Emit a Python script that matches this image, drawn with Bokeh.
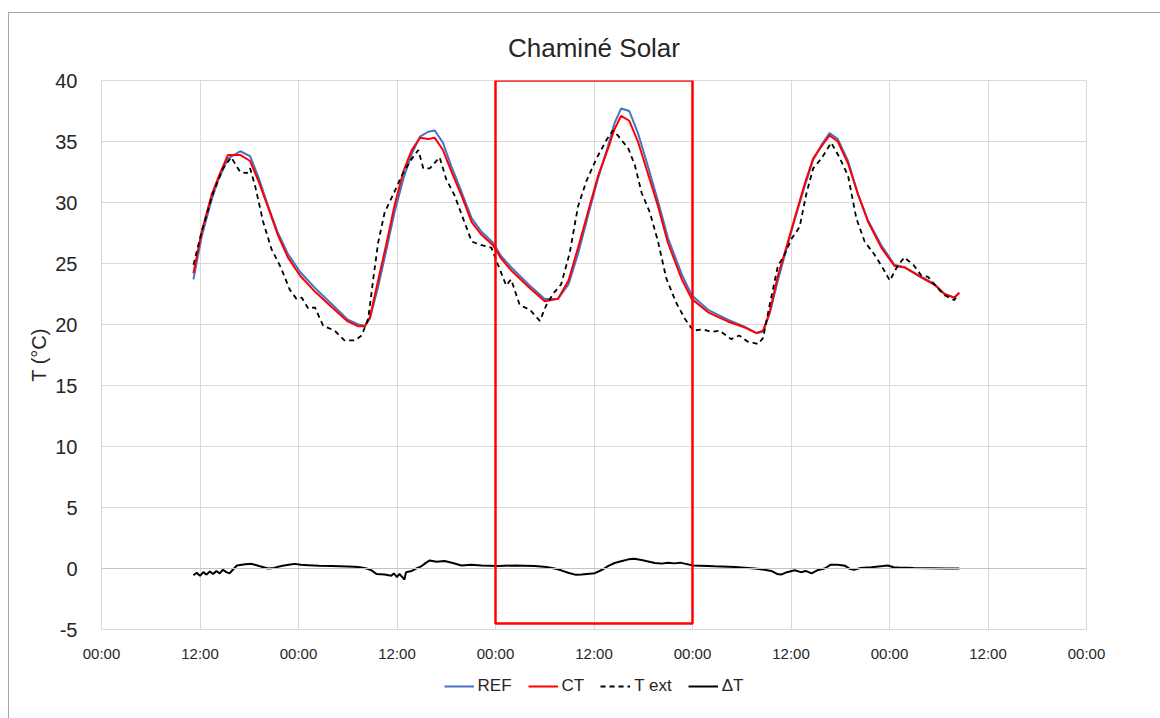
from bokeh.plotting import figure
from bokeh.layouts import column
from bokeh.models import Range1d, FixedTicker, Legend, LegendItem, BoxAnnotation, Span
from bokeh.embed import file_html
from bokeh.resources import INLINE

# Hours elapsed since the first 00:00 on the time axis
tick_hours = [0, 12, 24, 36, 48, 60, 72, 84, 96, 108, 120]
tick_labels = ["00:00", "12:00", "00:00", "12:00", "00:00", "12:00",
               "00:00", "12:00", "00:00", "12:00", "00:00"]
y_ticks = [-5, 0, 5, 10, 15, 20, 25, 30, 35, 40]
y_labels = ["-5", "0", "5", "10", "15", "20", "25", "30", "35", "40"]

# Indoor temperatures: reference room (REF) and room with solar chimney (CT)
hours_in = [11.2, 12.2, 13.4, 14.2, 15.4, 16.9, 18.1, 19.1, 20.3, 21.5, 22.7, 24.2,
            26.0, 28.0, 30.0, 31.3, 32.1, 32.7, 33.7, 34.7, 35.7, 36.8, 37.8, 38.8,
            39.8, 40.6, 41.6, 42.6, 43.9, 45.1, 46.3, 47.7, 48.7, 49.9, 52.0, 54.0,
            55.6, 56.9, 58.1, 59.3, 60.5, 61.7, 62.5, 63.3, 64.3, 65.4, 66.6, 67.8,
            69.0, 70.7, 71.9, 73.9, 76.3, 78.4, 79.8, 80.6, 81.4, 82.4, 83.2, 84.45,
            85.7, 86.7, 87.7, 88.7, 89.7, 90.95, 92.2, 93.4, 95.0, 96.6, 97.8, 99.9,
            101.5, 102.7, 103.9, 104.5]
t_ref = [23.7, 27.2, 30.2, 31.8, 33.6, 34.2, 33.8, 32.1, 29.7, 27.5, 25.8, 24.3,
         23.0, 21.7, 20.4, 20.0, 19.9, 20.5, 23.1, 26.1, 29.2, 32.0, 34.0, 35.4,
         35.8, 35.9, 34.9, 33.0, 30.8, 28.7, 27.6, 26.7, 25.6, 24.7, 23.3, 22.1,
         22.1, 23.3, 25.9, 29.0, 32.0, 34.6, 36.5, 37.7, 37.5, 35.6, 32.9, 30.1,
         27.1, 24.1, 22.4, 21.2, 20.4, 19.8, 19.3, 19.4, 20.9, 23.6, 25.6, 28.6,
         31.4, 33.5, 34.7, 35.7, 35.2, 33.4, 30.6, 28.5, 26.5, 24.9, 24.7, 23.9,
         23.3, 22.5, 22.2, 22.6]
t_ct = [24.2, 27.6, 30.6, 32.0, 33.9, 33.9, 33.4, 31.8, 29.6, 27.3, 25.5, 24.0,
        22.7, 21.45, 20.25, 19.85, 19.85, 20.6, 23.6, 26.6, 29.75, 32.6, 34.3, 35.3,
        35.2, 35.3, 34.3, 32.6, 30.5, 28.4, 27.35, 26.5, 25.4, 24.45, 23.1, 21.9,
        22.1, 23.6, 26.4, 29.3, 32.2, 34.4, 36.0, 37.1, 36.7, 34.9, 32.3, 29.7,
        26.7, 23.7, 22.1, 21.0, 20.25, 19.75, 19.3, 19.5, 21.0, 24.0, 25.8, 28.7,
        31.6, 33.6, 34.6, 35.5, 35.0, 33.2, 30.6, 28.4, 26.3, 24.8, 24.7, 23.85,
        23.25, 22.5, 22.2, 22.6]

# Outdoor air temperature
hours_ext = [11.2, 12.2, 13.6, 14.8, 15.8, 16.9, 17.7, 18.1, 18.7, 19.7, 20.7, 21.9,
             22.9, 23.75, 24.4, 25.2, 26.0, 27.0, 28.4, 29.6, 30.9, 31.7, 32.5, 33.1,
             33.7, 34.5, 35.5, 36.5, 37.6, 38.6, 39.2, 40.0, 41.2, 42.0, 43.0, 44.05,
             45.1, 46.3, 47.5, 48.3, 49.3, 49.9, 50.95, 52.2, 53.4, 54.2, 55.0, 56.0,
             57.05, 58.06, 59.1, 60.3, 61.5, 62.3, 62.9, 64.2, 65.0, 65.8, 66.8, 67.8,
             68.8, 70.0, 71.05, 72.07, 73.3, 74.3, 75.3, 76.7, 77.7, 78.7, 80.0, 80.6,
             81.4, 82.4, 83.2, 84.05, 85.05, 85.9, 86.7, 87.7, 88.9, 89.9, 90.95, 91.96,
             92.97, 94.2, 95.2, 96.04, 96.9, 97.8, 98.9, 99.9, 100.7, 101.7, 102.7,
             103.9, 104.3]
t_ext = [24.9, 27.6, 30.8, 32.8, 33.7, 32.5, 32.4, 32.8, 31.4, 28.4, 26.2, 24.6,
         22.9, 22.1, 22.2, 21.3, 21.4, 19.9, 19.5, 18.7, 18.7, 19.1, 20.5, 23.7,
         26.7, 29.2, 30.6, 32.1, 33.4, 34.3, 32.8, 32.8, 33.7, 31.9, 30.6, 28.7,
         26.8, 26.5, 26.3, 24.9, 23.2, 23.7, 21.6, 21.2, 20.3, 21.6, 22.5, 23.3,
         25.9, 29.7, 31.8, 33.6, 35.1, 35.9, 35.5, 34.4, 33.0, 30.8, 29.2, 26.8,
         23.8, 21.8, 20.5, 19.5, 19.6, 19.4, 19.5, 18.8, 19.1, 18.6, 18.4, 18.9,
         21.6, 24.8, 25.7, 27.0, 28.0, 30.8, 32.8, 33.6, 34.9, 33.7, 32.2, 28.7,
         26.8, 25.7, 24.6, 23.6, 24.7, 25.5, 24.9, 24.0, 23.9, 23.1, 22.4,
         22.0, 22.4]

# Difference REF - CT
hours_dt = [11.2, 11.6, 12.0, 12.4, 12.8, 13.2, 13.6, 14.0, 14.4, 14.8, 15.2, 15.6,
            16.0, 16.5, 17.5, 18.3, 19.2, 20.3, 21.0, 21.9, 22.8, 23.55, 24.3, 25.2,
            26.5, 28.0, 30.0, 31.3, 32.3, 32.9, 33.5, 34.5, 35.3, 35.6, 36.0, 36.3,
            36.7, 36.9, 37.1, 37.8, 38.5, 39.0, 39.6, 40.0, 40.8, 41.8, 42.8, 43.85,
            45.0, 46.3, 48.3, 50.35, 52.8, 54.2, 55.2, 56.0, 56.85, 57.8, 58.5, 60.1,
            61.0, 61.7, 62.5, 63.3, 64.2, 64.9, 65.8, 66.6, 67.4, 68.2, 69.0, 69.8,
            70.5, 71.05, 72.1, 74.7, 77.15, 79.6, 80.8, 81.6, 82.3, 82.8, 83.5, 84.45,
            85.2, 85.8, 86.5, 87.2, 88.1, 88.8, 89.7, 90.6, 91.2, 91.7, 92.5, 93.8,
            95.2, 95.8, 96.5, 97.1, 99.0, 101.1, 103.0, 104.5]
t_dt = [-0.55, -0.35, -0.6, -0.3, -0.5, -0.25, -0.45, -0.2, -0.4, -0.1, -0.3, -0.4,
        -0.1, 0.25, 0.35, 0.38, 0.2, 0.0, 0.05, 0.2, 0.3, 0.38, 0.3, 0.27,
        0.22, 0.2, 0.17, 0.12, 0.0, -0.15, -0.45, -0.5, -0.6, -0.4, -0.7, -0.45,
        -0.75, -0.9, -0.3, -0.2, 0.05, 0.2, 0.5, 0.66, 0.55, 0.62, 0.45, 0.25,
        0.3, 0.25, 0.2, 0.25, 0.2, 0.12, 0.0, -0.15, -0.35, -0.52, -0.5, -0.38,
        -0.1, 0.2, 0.45, 0.6, 0.75, 0.8, 0.7, 0.58, 0.45, 0.4, 0.48, 0.42,
        0.48, 0.4, 0.25, 0.18, 0.12, 0.0, -0.1, -0.2, -0.45, -0.5, -0.3, -0.15,
        -0.3, -0.2, -0.4, -0.15, 0.0, 0.3, 0.3, 0.22, -0.05, -0.1, 0.05, 0.1,
        0.2, 0.25, 0.1, 0.08, 0.05, 0.03, 0.0, 0.0]

# Highlighted day
day_start, day_end = 48, 72
box_bottom, box_top = -4.5, 40

FONT = "Liberation Sans"
TEXT = "#262626"
GRID = "#d9d9d9"
C_REF, C_CT, C_BLACK = "#4472C4", "#FF0000", "black"

p = figure(width=1152, height=652, output_backend="svg", toolbar_location=None,
           x_range=Range1d(0, 120), y_range=Range1d(-5, 40),
           min_border_left=92, min_border_right=75, min_border_top=66,
           min_border_bottom=36, background_fill_color="white",
           border_fill_color="white", outline_line_color=GRID)

p.title.text = "Chaminé Solar"
p.title.align = "center"
p.title.text_font = FONT
p.title.text_font_size = "26px"
p.title.text_font_style = "normal"
p.title.text_color = TEXT
p.title.standoff = 35

p.xaxis.ticker = FixedTicker(ticks=tick_hours)
p.xaxis.major_label_overrides = dict(zip(tick_hours, tick_labels))
p.yaxis.ticker = FixedTicker(ticks=y_ticks)
p.yaxis.major_label_overrides = dict(zip(y_ticks, y_labels))
for ax in (p.xaxis, p.yaxis):
    ax.axis_line_color = None
    ax.major_tick_line_color = None
    ax.minor_tick_line_color = None
    ax.major_label_text_font = FONT
    ax.major_label_text_color = TEXT
p.xaxis.major_label_text_font_size = "15px"
p.xaxis.major_label_standoff = 9
p.yaxis.major_label_text_font_size = "20px"
p.yaxis.major_label_standoff = 18
p.yaxis.axis_label = "T (°C)"
p.yaxis.axis_label_text_font = FONT
p.yaxis.axis_label_text_font_size = "20px"
p.yaxis.axis_label_text_font_style = "normal"
p.yaxis.axis_label_text_color = TEXT
p.yaxis.axis_label_standoff = 2

p.xgrid.ticker = FixedTicker(ticks=tick_hours)
p.ygrid.ticker = FixedTicker(ticks=y_ticks)
p.xgrid.grid_line_color = GRID
p.ygrid.grid_line_color = GRID

p.add_layout(Span(location=0, dimension="width", line_color="#c4c4c4", line_width=1))

p.line(hours_in, t_ref, line_color=C_REF, line_width=2)
p.line(hours_in, t_ct, line_color=C_CT, line_width=2)
p.line(hours_ext, t_ext, line_color=C_BLACK, line_width=1.8, line_dash="5 4")
p.line(hours_dt, t_dt, line_color=C_BLACK, line_width=2)

p.add_layout(BoxAnnotation(left=day_start, right=day_end, bottom=box_bottom, top=box_top,
                           fill_color=None, fill_alpha=0, line_color="#FF0000",
                           line_alpha=1.0, line_width=2.5))

# Legend strip under the chart: same series styles, viewed outside their x span
key = figure(width=1152, height=54, output_backend="svg", toolbar_location=None,
             x_range=Range1d(0, 1), y_range=Range1d(0, 1),
             x_axis_type=None, y_axis_type=None, outline_line_color=None,
             min_border_left=17, min_border_right=0, min_border_top=0,
             min_border_bottom=12, background_fill_color="white",
             border_fill_color="white")
key.grid.visible = False
k_ref = key.line(hours_in, t_ref, line_color=C_REF, line_width=2)
k_ct = key.line(hours_in, t_ct, line_color=C_CT, line_width=2)
k_ext = key.line(hours_ext, t_ext, line_color=C_BLACK, line_width=1.8, line_dash="5 4")
k_dt = key.line(hours_dt, t_dt, line_color=C_BLACK, line_width=2)
legend = Legend(items=[LegendItem(label="REF", renderers=[k_ref]),
                       LegendItem(label="CT", renderers=[k_ct]),
                       LegendItem(label="T ext", renderers=[k_ext]),
                       LegendItem(label="ΔT", renderers=[k_dt])],
                orientation="horizontal", location="center",
                border_line_color=None, background_fill_alpha=0,
                padding=0, margin=0,
                label_text_font=FONT, label_text_font_size="17px",
                label_text_color=TEXT, glyph_width=30, glyph_height=20,
                label_standoff=4, spacing=16)
key.add_layout(legend, "center")

page = column(p, key, spacing=0)
page.styles = {"margin-left": "8px", "margin-top": "12px",
               "border-left": "1px solid #a6a6a6", "border-top": "1px solid #a6a6a6"}

open("out.html", "w").write(file_html(page, INLINE))
